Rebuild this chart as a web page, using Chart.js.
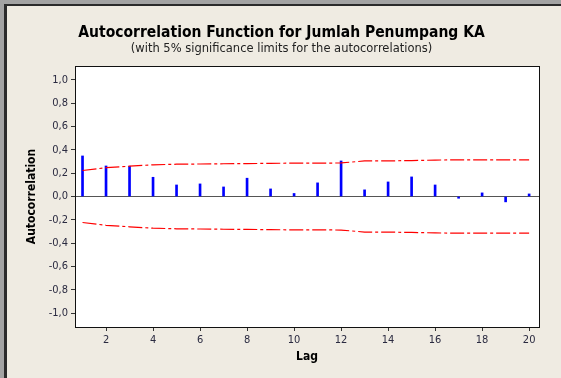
<!DOCTYPE html>
<html>
<head>
<meta charset="utf-8">
<title>ACF Jumlah Penumpang KA</title>
<script src="https://cdn.jsdelivr.net/npm/chart.js@4.4.0/dist/chart.umd.min.js"></script>
<style>
  html, body { margin: 0; padding: 0; }
  body { width: 561px; height: 378px; background: #efebe2; position: relative; overflow: hidden; }
  #acfChart { position: absolute; left: 0; top: 0; }
  .edge { position: absolute; }
</style>
</head>
<body>
<canvas id="acfChart" width="561" height="378"></canvas>
<div class="edge" style="left:0;top:0;width:561px;height:4px;background:#a3a3a3"></div>
<div class="edge" style="left:0;top:0;width:4px;height:378px;background:#a3a3a3"></div>
<div class="edge" style="left:4px;top:4px;width:557px;height:2px;background:#2b2b2b"></div>
<div class="edge" style="left:4px;top:4px;width:3px;height:374px;background:#2b2b2b"></div>
<script>
// nilai ACF
const lags = [1, 2, 3, 4, 5, 6, 7, 8, 9, 10, 11, 12, 13, 14, 15, 16, 17, 18, 19, 20];
const acf = [0.348, 0.262, 0.260, 0.165, 0.099, 0.108, 0.082, 0.157, 0.065, 0.026,
             0.117, 0.305, 0.057, 0.125, 0.168, 0.099, -0.015, 0.031, -0.046, 0.022];
const upperLimit = [0.223, 0.247, 0.260, 0.272, 0.277, 0.279, 0.281, 0.282, 0.285, 0.286,
                    0.286, 0.288, 0.305, 0.306, 0.308, 0.313, 0.314, 0.314, 0.314, 0.315];
const lowerLimit = [-0.223, -0.247, -0.260, -0.272, -0.277, -0.279, -0.281, -0.282, -0.285, -0.286,
                    -0.286, -0.288, -0.305, -0.306, -0.308, -0.313, -0.314, -0.314, -0.314, -0.315];
const yTicks = [-1.0, -0.8, -0.6, -0.4, -0.2, 0, 0.2, 0.4, 0.6, 0.8, 1.0];
const xTicks = [2, 4, 6, 8, 10, 12, 14, 16, 18, 20];

const fontFamily = "'DejaVu Sans Condensed', 'DejaVu Sans', sans-serif";

// latar putih + bingkai kotak plot
const plotFrame = {
    id: 'plotFrame',
    beforeDraw(chart) {
        const a = chart.chartArea;
        const c = chart.ctx;
        c.save();
        c.fillStyle = '#ffffff';
        c.fillRect(a.left, a.top, a.right - a.left, a.bottom - a.top);
        c.restore();
    },
    afterDraw(chart) {
        const a = chart.chartArea;
        const c = chart.ctx;
        c.save();
        c.strokeStyle = '#111111';
        c.lineWidth = 1;
        c.strokeRect(Math.round(a.left) + 0.5, Math.round(a.top) + 0.5,
                     Math.round(a.right - a.left), Math.round(a.bottom - a.top));
        c.restore();
    }
};

const limitStyle = {
    type: 'line',
    borderColor: '#ff0000',
    borderWidth: 1.2,
    borderDash: [14, 3, 3, 3],
    pointRadius: 0,
    fill: false,
    tension: 0
};

const ctx = document.getElementById('acfChart').getContext('2d');
const acfChart = new Chart(ctx, {
    type: 'bar',
    data: {
        datasets: [
            Object.assign({ data: lags.map((l, i) => ({ x: l, y: upperLimit[i] })) }, limitStyle),
            Object.assign({ data: lags.map((l, i) => ({ x: l, y: lowerLimit[i] })) }, limitStyle),
            {
                type: 'bar',
                data: lags.map((l, i) => ({ x: l, y: acf[i] })),
                backgroundColor: '#0000ff',
                borderWidth: 0,
                barThickness: 2
            }
        ]
    },
    options: {
        responsive: false,
        animation: false,
        devicePixelRatio: 1,
        layout: { padding: { left: 24, right: 22, top: 0, bottom: 0 } },
        plugins: {
            legend: { display: false },
            tooltip: { enabled: false },
            title: {
                display: true,
                text: 'Autocorrelation Function for Jumlah Penumpang KA',
                color: '#000000',
                font: { family: fontFamily, size: 15.5, weight: 'bold' },
                padding: { top: 24, bottom: 0 }
            },
            subtitle: {
                display: true,
                text: '(with 5% significance limits for the autocorrelations)',
                color: '#222222',
                font: { family: "'DejaVu Sans', sans-serif", size: 11.5 },
                padding: { top: 0, bottom: 9.6 }
            }
        },
        scales: {
            x: {
                type: 'linear',
                min: 0.68,
                max: 20.42,
                offset: false,
                afterFit(scale) { scale.height = 51; },
                afterBuildTicks(scale) { scale.ticks = xTicks.map(v => ({ value: v })); },
                grid: { offset: false, drawOnChartArea: false, tickLength: 4, tickColor: '#333333' },
                border: { display: false },
                ticks: {
                    padding: 3,
                    color: '#2a2a40',
                    font: { family: fontFamily, size: 11 },
                    callback: v => String(v)
                },
                title: {
                    display: true,
                    text: 'Lag',
                    color: '#000000',
                    font: { family: fontFamily, size: 12, weight: 'bold' },
                    padding: { top: 0, bottom: 14 }
                }
            },
            y: {
                min: -1.12,
                max: 1.12,
                afterFit(scale) { scale.width = 51; },
                afterBuildTicks(scale) { scale.ticks = yTicks.map(v => ({ value: v })); },
                grid: {
                    color: c => (c.tick && c.tick.value === 0 ? '#555555' : 'rgba(0,0,0,0)'),
                    tickLength: 4,
                    tickColor: '#333333'
                },
                border: { display: false },
                ticks: {
                    padding: 3,
                    color: '#2a2a40',
                    font: { family: fontFamily, size: 11 },
                    callback: v => v.toFixed(1).replace('.', ',')
                },
                title: {
                    display: true,
                    text: 'Autocorrelation',
                    color: '#000000',
                    font: { family: fontFamily, size: 12, weight: 'bold' },
                    padding: { top: 0.3, bottom: 0 }
                }
            }
        }
    },
    plugins: [plotFrame]
});
</script>
</body>
</html>
